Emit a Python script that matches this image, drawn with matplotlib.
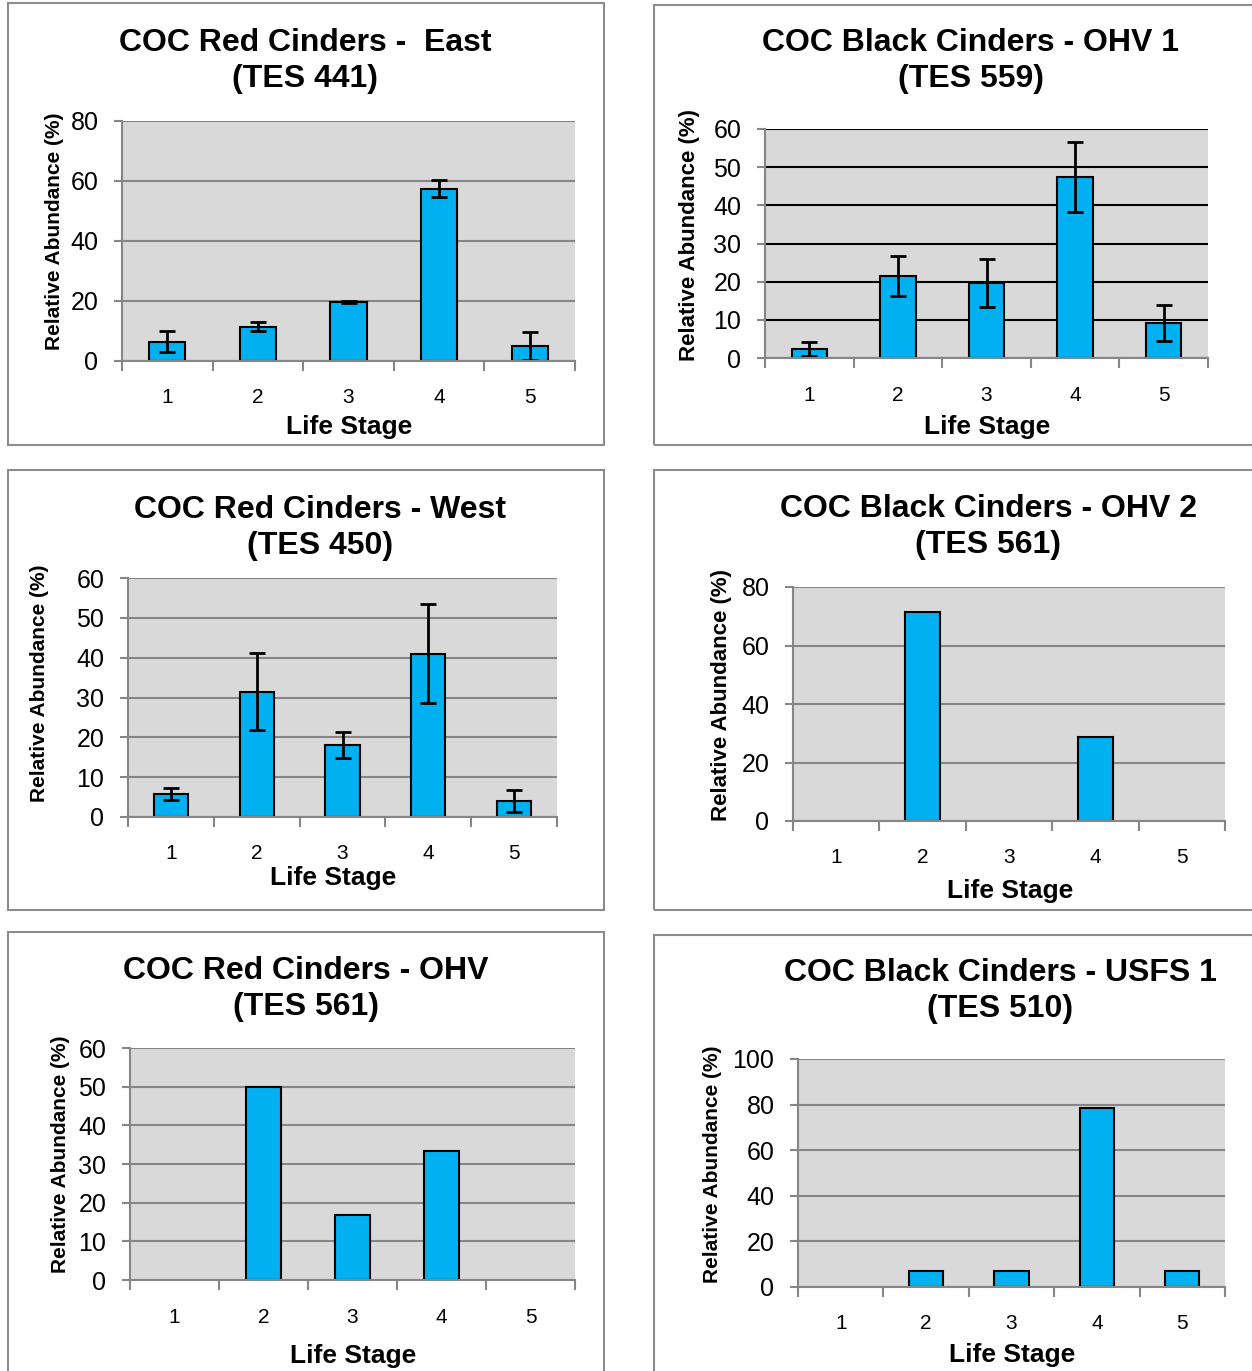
import numpy as np
import matplotlib
matplotlib.use("Agg")
import matplotlib.pyplot as plt
from matplotlib.patches import Rectangle

plt.rcParams['font.family'] = ['Liberation Sans', 'DejaVu Sans']

# life stages on the x axis
stages = [1, 2, 3, 4, 5]

# COC Red Cinders - East (TES 441)
east_mean = [6.5, 11.5, 19.6, 57.5, 5.0]
east_err = [3.5, 1.5, 0.3, 2.7, 4.8]

# COC Black Cinders - OHV 1 (TES 559)
ohv1_mean = [2.3, 21.5, 19.7, 47.5, 9.2]
ohv1_err = [1.8, 5.3, 6.3, 9.2, 4.8]

# COC Red Cinders - West (TES 450)
west_mean = [5.8, 31.5, 18.0, 41.0, 4.0]
west_err = [1.5, 9.7, 3.3, 12.5, 2.7]

# COC Black Cinders - OHV 2 (TES 561)
ohv2_mean = [0, 71.4, 0, 28.6, 0]

# COC Red Cinders - OHV (TES 561)
ohv_mean = [0, 50.0, 16.7, 33.3, 0]

# COC Black Cinders - USFS 1 (TES 510)
usfs1_mean = [0, 7.1, 7.1, 78.6, 7.1]

titles = ["COC Red Cinders -  East\n(TES 441)",
          "COC Black Cinders - OHV 1\n(TES 559)",
          "COC Red Cinders - West\n(TES 450)",
          "COC Black Cinders - OHV 2\n(TES 561)",
          "COC Red Cinders - OHV\n(TES 561)",
          "COC Black Cinders - USFS 1\n(TES 510)"]
means = [east_mean, ohv1_mean, west_mean, ohv2_mean, ohv_mean, usfs1_mean]
errs = [east_err, ohv1_err, west_err, None, None, None]
ymax = [80, 60, 60, 80, 60, 100]
ystep = [20, 10, 10, 20, 10, 20]

W, H = 1252, 1371
BAR = '#00B0F0'
BG = '#D9D9D9'
GRID = '#868686'

# pixel layout per panel: plot box, border box, text positions
layout = [
    dict(plot=(122, 121, 575, 361), border=(8, 3, 604, 445), title=(305, 61), ylab=(55, 231, 15),
         xt=396, xlab=(349, 427), grid=GRID),
    dict(plot=(765, 129, 1208, 358), border=(654, 5, 1256, 445), title=(971, 61), ylab=(690, 235, 16),
         xt=394, xlab=(987, 427), grid='black'),
    dict(plot=(128, 578, 557, 817), border=(8, 470, 604, 910), title=(320, 528), ylab=(40, 683, 15),
         xt=852, xlab=(333, 878), grid=GRID),
    dict(plot=(793, 587, 1225, 821), border=(654, 470, 1256, 910), title=(988, 527), ylab=(722, 695, 16),
         xt=856, xlab=(1010, 891), grid=GRID),
    dict(plot=(130, 1048, 575, 1280), border=(8, 932, 604, 1375), title=(306, 989), ylab=(60, 1154, 15),
         xt=1316, xlab=(353, 1356), grid=GRID),
    dict(plot=(798, 1059, 1225, 1287), border=(654, 935, 1256, 1375), title=(1000, 991), ylab=(713, 1164, 15),
         xt=1322, xlab=(1012, 1355), grid=GRID),
]

fig = plt.figure(figsize=(W / 100, H / 100), dpi=100)


def fx(x):
    return x / W


def fy(y):
    return 1 - y / H


for i in range(6):
    L = layout[i]
    bx0, by0, bx1, by1 = L['border']
    fig.patches.append(Rectangle((fx(bx0), fy(by1)), fx(bx1 - bx0), (by1 - by0) / H,
                                 transform=fig.transFigure, fill=False,
                                 edgecolor='#8C8C8C', linewidth=1.5))

    x0, y0, x1, y1 = L['plot']
    ax = fig.add_axes([fx(x0), fy(y1), fx(x1 - x0), (y1 - y0) / H])
    ax.set_facecolor(BG)
    ax.set_axisbelow(True)

    bars = ax.bar(stages, means[i], width=0.4, color=BAR, edgecolor='black', linewidth=1.5)
    for b in bars:
        if b.get_height() == 0:
            b.set_visible(False)
    if errs[i] is not None:
        ax.errorbar(stages, means[i], yerr=errs[i], fmt='none', ecolor='black',
                    elinewidth=2, capsize=6, capthick=2)

    ax.set_xlim(0.5, 5.5)
    ax.set_ylim(0, ymax[i])
    ax.set_yticks(np.arange(0, ymax[i] + 1, ystep[i]))
    ax.yaxis.grid(True, color=L['grid'], linewidth=1.5)
    ax.tick_params(axis='y', direction='out', length=6, color=GRID, width=1.5,
                   labelsize=18, pad=11)

    ax.set_xticks(np.arange(0.5, 6, 1))
    ax.set_xticklabels([])
    ax.set_xticks(stages, minor=True)
    ax.set_xticklabels([str(s) for s in stages], minor=True)
    ax.tick_params(axis='x', which='major', direction='out', length=7, color=GRID, width=1.5)
    ax.tick_params(axis='x', which='minor', length=0, labelsize=15,
                   pad=(L['xt'] - y1 - 8) * 0.72)

    for s in ['top', 'right']:
        ax.spines[s].set_visible(False)
    for s in ['left', 'bottom']:
        ax.spines[s].set_color(GRID)
        ax.spines[s].set_linewidth(1.5)

    tx, ty = L['title']
    fig.text(fx(tx), fy(ty), titles[i], ha='center', va='center', fontsize=23,
             fontweight='bold', linespacing=1.27)
    lx, ly, ls = L['ylab']
    fig.text(fx(lx), fy(ly), 'Relative Abundance (%)', rotation=90, ha='center',
             va='center', fontsize=ls, fontweight='bold')
    sx, sy = L['xlab']
    fig.text(fx(sx), fy(sy), 'Life Stage', ha='center', va='center', fontsize=19,
             fontweight='bold')

fig.savefig('out.png', dpi=100, facecolor='white')
